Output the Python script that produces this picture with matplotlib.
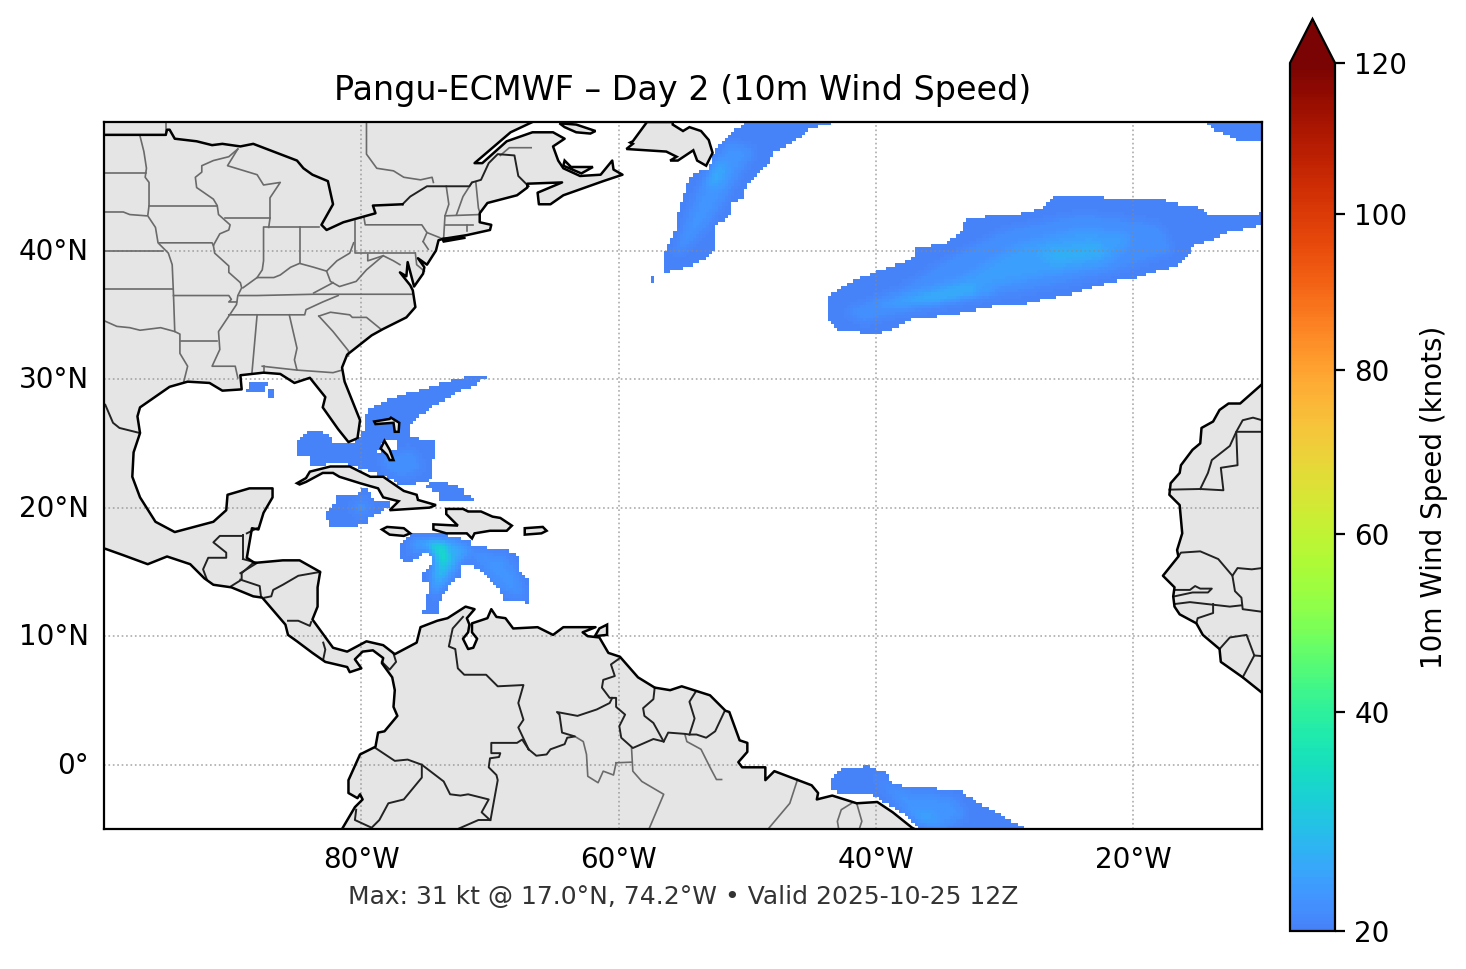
import numpy as np
import matplotlib
matplotlib.use("Agg")
import matplotlib.pyplot as plt
from matplotlib.path import Path
from matplotlib.colors import FuncNorm, LinearSegmentedColormap
from matplotlib.patches import Polygon
from matplotlib.transforms import ScaledTranslation

TITLE = "Pangu-ECMWF – Day 2 (10m Wind Speed)"
FOOTER = "Max: 31 kt @ 17.0°N, 74.2°W • Valid 2025-10-25 12Z"
CBAR_LABEL = "10m Wind Speed (knots)"
LON_TICKS = [-80, -60, -40, -20]
LON_LABELS = ["80°W", "60°W", "40°W", "20°W"]
LAT_TICKS = [0, 10, 20, 30, 40]
LAT_LABELS = ["0°", "10°N", "20°N", "30°N", "40°N"]
CBAR_TICKS = [20, 40, 60, 80, 100, 120]
SPEED_KNOTS = [20, 31, 40, 60, 80, 100, 120]
SPEED_FRAC = [0, 0.165, 0.252, 0.457, 0.646, 0.826, 1]

COAST_EAST = [(-66.7,50),(-68.4,49.2),(-71.2,46.8),(-70.6,46.8),(-68.7,48.5),(-66.7,49.2),(-65.1,49.2),(-64.2,48.7),(-65.1,48.1),(-64.7,47.0),(-64.3,46.4),(-63.0,45.8),(-61.4,45.9),(-60.5,47.0),(-60.4,46.3),(-59.7,45.9),(-61.2,45.4),(-64.3,44.3),(-65.3,43.6),(-66.2,43.6),(-66.3,44.5),(-64.4,45.3),(-67.1,45.2),(-67.1,44.9),(-67.9,44.3),(-70.2,43.7),(-70.8,42.9),(-70.8,42.2),(-69.9,42.0),(-70,41.6),(-71.8,41.2),(-73.7,40.9),(-74.0,40.8),(-74.2,40),(-74.9,38.9),(-75.6,39.4),(-75.1,38.7),(-75.2,38.2),(-75.9,37.2),(-76.4,39.1),(-76.5,38.0),(-77.0,38.3),(-76.2,37.3),(-76,36.9),(-75.8,35.6),(-76.5,34.8),(-78.3,33.9),(-79.2,33.4),(-81.1,31.9),(-81.5,30.9),(-81.3,29.8),(-80.1,26.8),(-80.3,25.4),(-81.0,25.1),(-81.8,26.1),(-83.0,27.8),(-82.8,28.6),(-84,30.1),(-85.2,29.7),(-86.3,30.4),(-87.6,30.5),(-89.4,30.3),(-89.3,29.2),(-90.8,29.1),(-91.8,29.7),(-93.5,29.8),(-94.9,29.4),(-97.2,27.8),(-97.4,27.1),(-97.2,25.8),(-97.7,24.3),(-97.8,22.4),(-97.2,20.8),(-96,18.9),(-94.5,18.1),(-91.5,18.9),(-90.5,19.8),(-90.4,21),(-88.7,21.5),(-86.9,21.5),(-86.9,20.8),(-87.6,19.6),(-88,18.3),(-88.5,18.4),(-88.9,16.1),(-88.3,15.7),(-86.1,15.9),(-84.8,15.9),(-83.2,15),(-83.4,13.8),(-83.4,12.3),(-83.8,11.3),(-82.2,9.1),(-81.1,8.8),(-79.6,9.6),(-78.3,9.3),(-77.4,8.6),(-75.7,9.5),(-75.4,10.7),(-74.1,11.2),(-73.3,11.4),(-71.9,12.3),(-71.2,12.1),(-71.8,11.4),(-71.6,10.9),(-71.7,10.3),(-72.1,9.8),(-71.7,9),(-71.3,9.1),(-71,9.8),(-71.4,10.3),(-71.4,11),(-70.2,11.4),(-69.9,12.1),(-69.5,11.5),(-68.8,11.4),(-68.2,10.6),(-66.3,10.7),(-65.1,10.1),(-64.3,10.7),(-61.8,10.7),(-62.8,10.3),(-62.4,10),(-61.5,9.9),(-60.8,8.7),(-59.9,8.4),(-58.5,6.8),(-57.2,6),(-56,5.8),(-55.1,6.1),(-52.9,5.4),(-51.7,4.2),(-51.4,4.1),(-50.6,1.9),(-50,1.7),(-50,1),(-50.7,0.2),(-50.4,-0.2),(-48.6,-0.2),(-48.6,-1.2),(-47.9,-0.5),(-45,-1.6),(-44.5,-2.2),(-44.6,-2.7),(-43.4,-2.4),(-41.5,-3),(-39.9,-2.9),(-38.7,-3.7),(-37.2,-4.9),(-37,-5)]
COAST_WEST = [(-81.5,-5),(-80.5,-3.3),(-79.9,-2.7),(-80.1,-2.3),(-80.3,-2.6),(-81,-2.2),(-81,-1.2),(-80.1,0.8),(-78.9,1.4),(-78.7,2.5),(-78.2,2.6),(-77.2,3.8),(-77.5,4.5),(-77.4,5.8),(-77.6,6.8),(-78.4,7.9),(-78.3,8.3),(-79.1,8.9),(-79.9,8.8),(-80.5,8.2),(-80,7.5),(-80.9,7.2),(-81.1,7.6),(-82.8,8),(-83.8,8.7),(-85,9.6),(-85.7,10.1),(-85.9,10.9),(-87.7,13),(-88.4,13.1),(-90.1,13.8),(-91.5,14),(-92.2,14.5),(-93.3,15.6),(-95.1,16.2),(-96.6,15.6),(-98.5,16.3),(-99.9,16.8),(-100,16.8)]
COAST_AFRICA = [(-10,29.6),(-11.7,28.1),(-12.6,28.1),(-13.3,27.6),(-13.8,26.7),(-14.7,26.2),(-14.8,25),(-15.4,24.5),(-16.3,23.3),(-16.4,22.7),(-17.1,21.9),(-17.2,21),(-16.4,20.2),(-16.2,18),(-16.6,16.7),(-16.5,16.2),(-17.7,14.7),(-16.8,13.8),(-16.9,13.1),(-16.8,12.3),(-16.4,11.7),(-15.1,11),(-14.6,10.1),(-13.3,9),(-13.2,8),(-11.5,6.8),(-10,5.6)]
LAKES_BORDER = [(-100,49),(-95.2,49),(-95.1,49.4),(-94.9,49.4),(-94.5,48.7),(-92.8,48.5),(-91.6,48.2),(-90.8,48.3),(-89.4,48.1),(-88.4,48.3),(-85,47),(-84.5,46.4),(-83.8,45.9),(-82.6,45.4),(-82.2,43.6),(-83.1,42),(-82.7,41.6),(-81.4,42.2),(-78.9,42.9),(-79.1,43.5),(-76.8,43.6)]

ISLANDS = [
 [(-73.7,40.9),(-71.9,41.0),(-73.6,40.7)],
 [(-57.8,50),(-58.9,48.5),(-59.1,48.4),(-58.9,48.3),(-59.4,47.9),(-56.3,47.7),(-55.5,47.3),(-56,47),(-55.4,47),(-54.2,47.8),(-53.9,47),(-53.2,46.6),(-52.7,47.6),(-53,48.6),(-53.6,49.3),(-54.5,49.6),(-55,49.3),(-55.8,49.8),(-55.8,50)],
 [(-64.6,49.9),(-63.3,49.8),(-61.8,49.3),(-62.2,49.1),(-63.3,49.2),(-64.2,49.6)],
 [(-64.2,47),(-63.7,46.5),(-62,46.5),(-62.9,46),(-64.3,46.6)],
 [(-85,21.9),(-84.3,22.3),(-84,22.8),(-82.4,23.2),(-80.9,23.2),(-79.3,22.4),(-78.3,22.4),(-76.7,21.3),(-75.7,21),(-75.6,20.6),(-74.2,20.2),(-74.7,20),(-77.8,19.8),(-77.1,20.5),(-78.3,20.8),(-78.7,21.5),(-80.1,21.9),(-81.7,22.4),(-82.2,22.7),(-83,22.7),(-84.3,22),(-84.8,21.8)],
 [(-78.4,18.3),(-78.0,18.5),(-76.7,18.4),(-76.2,18),(-76.7,17.8),(-77.8,17.9)],
 [(-73.4,19.9),(-72.1,19.9),(-71.7,19.7),(-70.7,19.7),(-69.8,19.3),(-69.2,19.2),(-68.3,18.6),(-68.7,18.2),(-70,18.2),(-71.2,18),(-71.4,17.6),(-71.8,18),(-73.4,18),(-74.4,18.3),(-74.4,18.7),(-72.5,18.6),(-73.4,19.5)],
 [(-67.3,18.4),(-65.9,18.5),(-65.6,18.2),(-66,18),(-67.3,17.9)],
 [(-78.5,24.6),(-78.2,25.2),(-77.8,24.5),(-77.5,23.7),(-77.8,23.7),(-78,24.1)],
 [(-79,26.7),(-77.8,26.9),(-77.7,27),(-77.05,26.6),(-77.1,25.9),(-77.4,25.9),(-77.5,26.6),(-78.9,26.5)],
 [(-60.9,10.9),(-60.9,10.1),(-61.85,10),(-61.5,10.6)],
]

STATE_LINES = [
 [(-99.9,46),(-96.7,46)],
 [(-97.2,48.9),(-96.9,47.7),(-96.7,46.4),(-96.8,45.7),(-96.5,45.3),(-96.5,43.5),(-96.6,42.7),(-96,41.8),(-95.8,40.6),(-95,39.8),(-94.7,38.9),(-94.6,36.6),(-94.5,33.7),(-94.1,33.5),(-94.1,32),(-93.5,31),(-93.8,29.8)],
 [(-99.9,43),(-98.5,43),(-98,42.8),(-96.7,42.7)],
 [(-99.9,40),(-95.4,40)],
 [(-99.9,37),(-94.6,37)],
 [(-99.9,34.5),(-99,34.1),(-98,34),(-97.2,33.8),(-95.6,34),(-94.5,33.7)],
 [(-96.5,43.5),(-91.2,43.5)],
 [(-95.7,40.6),(-91.6,40.6),(-91.5,40.4)],
 [(-89.6,47.9),(-90.3,47.3),(-91.5,47),(-92.4,46.6),(-92.4,46.1),(-92.9,45.7),(-92.8,44.9),(-91.5,44),(-91.2,43.5),(-91.1,42.8),(-90.2,42),(-90.3,41.6),(-91,41.3),(-91.5,40.4),(-91.4,39.8),(-90.3,38.8),(-90.3,38.3),(-89.4,37.5),(-89.3,37.1),(-89.6,36.5),(-89.7,35.8),(-90.3,34.9),(-91.1,33.7),(-91,32.3),(-91.6,31),(-89.8,31),(-89.6,30.1)],
 [(-94,33),(-91.2,33)],
 [(-89.6,47.9),(-90.4,46.6),(-88.1,45.9),(-87.6,45.1),(-86.3,45.3),(-87.1,44.1),(-87.1,42.5),(-87.2,41.8)],
 [(-90.6,42.5),(-87.1,42.5)],
 [(-87.6,41.8),(-87.6,39.2),(-87.7,38.5),(-88.1,37.9)],
 [(-87.6,41.8),(-84.8,41.8),(-83.3,41.8)],
 [(-84.8,41.8),(-84.8,39)],
 [(-89.2,37.1),(-88.1,37.9),(-86.8,37.9),(-86.3,38.1),(-85.5,38.7),(-84.8,39),(-83.7,38.7),(-82.7,38.4),(-81.9,39.2),(-80.9,39.8),(-80.6,40.6)],
 [(-80.5,42.3),(-80.5,39.8),(-75.8,39.8)],
 [(-79.8,42.6),(-79.7,42),(-75.3,42),(-74.9,41.4),(-73.9,41)],
 [(-82.7,38.4),(-82.4,37.6),(-81.7,37.2),(-80.4,37.6),(-79.6,38.5),(-78.3,39.6),(-77.5,39.2),(-77,38.9)],
 [(-79.5,39.7),(-79.5,39.2),(-78.3,39.6)],
 [(-82.2,37.5),(-83.7,36.7)],
 [(-94.6,36.5),(-90.3,36.5),(-90.1,36.2),(-90.3,36),(-89.7,36)],
 [(-89.5,36.5),(-88.1,36.5),(-83.7,36.6),(-76.1,36.6)],
 [(-90.3,35),(-84.4,35),(-84.3,35.4),(-83,36),(-81.8,36.5)],
 [(-83.3,34.9),(-82.4,35.2),(-80.9,35),(-80.7,34.8),(-79.6,34.8),(-78.5,33.9)],
 [(-83.3,34.9),(-82.2,33.7),(-81,32.2),(-81,31.8)],
 [(-88.1,35),(-88.5,30.5)],
 [(-85.6,35),(-85,32.4),(-85.2,31.5),(-85,30.7),(-82.2,30.5),(-81.5,30.7)],
 [(-87.7,31),(-85,30.7)],
 [(-87.6,31),(-87.6,30.5)],
 [(-75.2,40.7),(-74.9,41.4)],
 [(-75.2,40.7),(-74.8,40.1)],
 [(-75.8,39.8),(-75.7,38.9),(-75.1,38.4)],
 [(-73.4,45),(-73.2,43.6),(-73.5,42.7),(-73.6,41)],
 [(-71.4,45.3),(-72.1,44.2),(-72.6,42.8)],
 [(-71.1,45.3),(-70.9,43.3),(-70.8,43)],
 [(-73.5,42.7),(-70.8,42.8)],
 [(-73.5,42),(-71.3,42)],
 [(-71.8,42),(-71.8,41.5)],
 [(-95.2,50),(-95.2,49)],
 [(-79.6,50),(-79.6,47.5),(-78.8,46.4),(-77.5,46.2),(-76.7,45.7),(-75.4,45.5),(-74.5,45.7),(-74.4,45.3)],
 [(-69.2,47.4),(-68.5,48),(-66.8,48)],
 [(-60.2,.15),(-59,.2)],
 [(-60.2,.15),(-60.4,-.8),(-61.2,-.5),(-61.6,-1.4),(-62.4,-.9),(-62.5,.8),(-62.75,1.8),(-63.4,2.2)],
 [(-54.85,2.35),(-54.7,1.8),(-53.6,1.2),(-52.9,-.2),(-52.4,-1.15),(-52,-1.15)],
 [(-59,1.3),(-58.9,-.5),(-58.2,-1.3),(-56.5,-2.3),(-57.6,-4.9)],
 [(-46.1,-1.15),(-46.7,-3),(-48.3,-4.9)],
 [(-41.9,-3),(-42.7,-3.5),(-43,-4.4),(-42.9,-5)],
 [(-41.5,-3),(-41.1,-4.4),(-41.3,-5)],
]

COUNTRY_LINES = [
 [(-76.8,43.6),(-76.2,44.2),(-74.9,45),(-71.6,45),(-71.4,45.3),(-70.7,45.5),(-70.1,46.8),(-69.4,47.5),(-68.1,47.4),(-67.8,45.8),(-67,45)],
 [(-99.9,28),(-99.3,26.6),(-98.8,26.2),(-97.2,25.8)],
 [(-83.2,15),(-84.9,14.7),(-86.1,14),(-86.85,13.6),(-87,13.1),(-87.5,13)],
 [(-88.4,15.7),(-89.3,14.9),(-89.3,14.4),(-90.1,13.9)],
 [(-89.4,14.4),(-87.9,13.9),(-87.8,13.1)],
 [(-89.2,17.9),(-89.2,16)],
 [(-89.2,17.8),(-91,17.8),(-91.5,17.3),(-90.5,16.5),(-90.5,16.1),(-91.9,16.1),(-92.3,15.2),(-92,14.4)],
 [(-88.9,18),(-88.1,18.4)],
 [(-89.2,16),(-88.1,15.7),(-89.4,14.9)],
 [(-85.7,11.2),(-84.9,11.2),(-84,10.8),(-83.9,11.1)],
 [(-82.96,9.5),(-82.8,8.96),(-82.96,8.2)],
 [(-78.4,8),(-77.8,7.4),(-77.3,8),(-77.5,8.65)],
 [(-72.1,11.5),(-72.9,10.6),(-73.2,9.2),(-72.7,9),(-72.5,7.5),(-72,7),(-70.3,7),(-69.4,6.1),(-67.4,6.2),(-67.8,4.8),(-67.4,3.5),(-67.8,2.9),(-67,1.2)],
 [(-67,1.2),(-67.5,1.96),(-67.9,1.7),(-69.9,1.7),(-69.9,.9),(-69.2,.9),(-69.3,.6),(-70,.5),(-70.1,-.2),(-69.5,-.8),(-69.4,-1.2),(-69.96,-4.3)],
 [(-70,-4.3),(-70.9,-4.3),(-72.5,-5)],
 [(-70,-4.3),(-70.65,-3.7),(-70.1,-2.7),(-71.7,-2.3),(-72.3,-2.4),(-73.1,-2.3),(-73.6,-1.3),(-75.3,0),(-76.4,.4),(-77.4,.3),(-78.9,1.3)],
 [(-75.3,0),(-75.3,-1),(-76.7,-2.7),(-77.9,-3),(-78.6,-4.3),(-79.2,-4.9),(-80.5,-4.3),(-80.4,-3.5)],
 [(-67,1.2),(-66.4,.7),(-65.6,.8),(-65.3,1.2),(-64.2,1.6),(-64,2.1),(-63.4,2.2),(-64.4,2.5),(-64.6,3.9),(-64.8,4.1),(-63.2,3.8),(-61.7,4.3),(-60.7,4.8),(-60.5,5.2)],
 [(-59.9,8.3),(-60.6,7.8),(-60.3,6.9),(-61.2,6.6),(-61.3,6),(-60.7,5.2),(-60.2,5.2),(-60.2,4.5),(-59.5,3.9),(-59.95,3),(-59.8,2.1),(-58.9,1.3),(-57.3,2),(-56.5,1.8),(-56.15,2.5),(-54.85,2.4),(-54.5,2.35),(-53.95,2.35),(-53.2,2.1),(-52.5,2.6),(-51.75,4.2)],
 [(-57.2,6),(-57.3,5.1),(-58.1,4.4),(-58,3.8),(-57.3,3.25),(-56.5,1.8)],
 [(-54,5.7),(-54.5,4.9),(-54.1,3.6),(-54.5,2.35)],
 [(-72.1,19.9),(-71.7,19.7),(-72.1,18.8),(-71.8,18)],
 [(-17.2,21.4),(-14.8,21.45),(-13,21.35),(-13.2,23.1),(-11.9,23.3),(-12,25.9),(-10,25.9)],
 [(-14.8,21.45),(-14.2,22.7),(-13.9,23.7),(-12.5,24.8),(-12,25.9),(-11.5,26.8),(-10.7,27),(-10,26.8)],
 [(-16.5,16.2),(-16.3,16.5),(-14.8,16.6),(-13.4,16),(-12.3,14.7),(-11.9,15.3),(-10.8,15.2),(-10,15.3)],
 [(-12.3,14.7),(-12.1,13.5),(-11.6,13),(-11.5,12.1),(-10,11.9)],
 [(-16.8,13.6),(-15.6,13.6),(-15.2,13.9),(-14.8,13.7),(-13.9,13.7),(-14.2,13.4),(-15.4,13.4),(-16.8,13.1)],
 [(-16.8,12.5),(-15.6,12.65),(-12.5,12.3),(-11.6,12.4)],
 [(-13.8,12.5),(-13.8,11.8),(-15,11.4),(-15.1,11)],
 [(-13.3,9),(-12.5,9.9),(-11.2,10.1),(-10.6,8.5),(-10,8.45)],
 [(-10.6,8.5),(-11.5,6.8)],
]

# Digitised wind-speed areas: (knots, outline in lon/lat), weakest first.
WIND_EDGE = 20.4
LABRADOR_STREAK = [(-50.1,49.9),(-43.5,49.9),(-45.2,49.4),(-46.3,48.5),(-47.9,47.7),(-48.2,47.1),(-48.7,46.3),(-50.1,45),(-50.2,44.1),(-51.2,43.6),(-51.2,42.95),(-52.4,41.9),(-52.5,40),(-53.4,39.3),(-54.45,38.7),(-55.7,38.5),(-56.5,38.1),(-56.6,39.4),(-56,40.75),(-55.6,41.65),(-55.4,42.8),(-54.6,45.3),(-54.3,45.9),(-53,46.4),(-52.4,48.1),(-51.6,48.8),(-50.9,49.4)]
SPECK_A = [(-57.4,38.1),(-57.15,38.1),(-57.15,37.4),(-57.4,37.4)]
MID_ATLANTIC = [(-43.8,36.35),(-42.7,37.1),(-41.8,37.6),(-40.1,38.3),(-38.4,38.9),(-37.1,39.45),(-37.1,40.1),(-34.6,40.6),(-33.4,41.4),(-33.1,42.4),(-30.9,42.7),(-28.4,42.9),(-27.1,43.3),(-26.35,44.1),(-25.1,44.3),(-22.45,44.3),(-22.1,44.1),(-17.1,43.85),(-16,43.5),(-15,43.4),(-14,42.8),(-12.1,42.8),(-11.2,42.7),(-10,42.9),(-10,42),(-12.6,41.4),(-14,40.75),(-15.4,40.35),(-15.6,39.7),(-16.5,38.9),(-18.4,38.3),(-20.1,37.8),(-21.5,37.6),(-23.4,37.1),(-24.95,36.6),(-28.7,35.8),(-31.2,35.6),(-34,35.05),(-35.9,34.8),(-37.1,34.7),(-38.4,34),(-39.9,33.5),(-40.55,33.5),(-41.8,33.75),(-43.2,33.9),(-43.8,34.9)]
TOP_RIGHT = [(-14.5,50),(-10,50),(-10,48.5),(-11.7,48.5),(-12.9,49.1),(-13.7,49.4)]
BAHAMAS = [(-69.9,30.35),(-71.3,30.3),(-74.15,29.57),(-75.6,29.05),(-76.75,28.8),(-77.9,28.4),(-78.7,28),(-79.6,27.6),(-79.7,26.3),(-80.2,25.3),(-80.75,24.9),(-82.05,24.9),(-82.45,25.55),(-83.1,25.9),(-83.9,26.1),(-84.4,25.7),(-84.9,25.3),(-84.9,24.1),(-84.1,24),(-84.1,23.2),(-81.9,23.5),(-80.9,23.35),(-79.3,22.8),(-78,22.4),(-76.9,21.7),(-76.2,21.7),(-75.6,22),(-74.8,22),(-74.4,22.7),(-74.4,23.7),(-74.15,23.7),(-74.15,25.2),(-75.7,25.4),(-76.35,25.55),(-76.35,26.2),(-75.6,26.97),(-74.5,27.9),(-73.4,28.4),(-72.1,29.2),(-71.3,29.4),(-70.4,30.1)]
TURKS_STRIP = [(-75,21.66),(-74.7,22),(-73.4,21.9),(-72.9,21.66),(-72.2,21.6),(-71.8,21),(-70.9,20.4),(-73.9,20.6),(-74,21.1)]
CAYMAN = [(-81.9,21),(-80.2,21.1),(-80.1,21.4),(-79.5,21.4),(-79.3,21),(-78.7,20.4),(-77.65,20.5),(-77.8,20.1),(-78.2,20),(-78.55,19.6),(-79.3,19.3),(-79.5,18.9),(-80.1,18.7),(-80.9,18.4),(-82.3,18.4),(-82.65,19.1),(-82.65,19.85),(-82.2,20.1)]
CARIBBEAN = [(-75.9,18.1),(-74.15,18.1),(-73.1,17.8),(-71.7,17.5),(-71.3,17),(-70.15,16.9),(-70,16.6),(-69,16.9),(-67.9,16.35),(-67.7,15.2),(-66.95,14.15),(-66.9,12.5),(-67.55,12.7),(-69,12.7),(-69.2,13.6),(-70.5,14.9),(-71.4,15.45),(-72.2,15.45),(-72.2,14.65),(-72.7,14.5),(-73.5,13.4),(-74,12.7),(-73.9,11.8),(-75.2,11.7),(-74.9,12.85),(-74.8,14.15),(-75.3,14.4),(-75.05,15.3),(-74.5,15.45),(-74.4,16.2),(-75.05,16.6),(-75.6,15.95),(-76.75,15.7),(-76.95,16.35),(-77.1,16.6),(-76.75,17.5)]
GULF_A = [(-88.95,29.05),(-88.7,29.7),(-87.35,29.7),(-87.5,29.05)]
GULF_B = [(-87.25,29.15),(-86.75,29.15),(-86.75,28.55),(-87.25,28.55)]
SOUTH_ATLANTIC = [(-42.8,-.37),(-41.1,-.32),(-41,-.11),(-40.5,-.11),(-39.8,-.42),(-39.2,-.68),(-38.7,-1.4),(-37.5,-1.8),(-33.5,-1.93),(-32.3,-2.83),(-31.2,-3.35),(-29.9,-4.13),(-28.2,-5),(-36.6,-5),(-37.5,-4),(-38.9,-3.2),(-39.96,-2.57),(-40.5,-2.3),(-42.2,-2.2),(-43.6,-2.05),(-43.6,-1.3),(-43.2,-.71)]
WIND_OUTLINES = [LABRADOR_STREAK, SPECK_A, MID_ATLANTIC, TOP_RIGHT, BAHAMAS, TURKS_STRIP, CAYMAN, CARIBBEAN, GULF_A, GULF_B, SOUTH_ATLANTIC]
ANDROS_GAP = [(-78.3,25.3),(-77.3,25.15),(-77.3,24.5),(-77.9,24.6),(-78.7,24.3)]
WIND_CORES = [
 (22.5, [(-51.5,48.5),(-49.5,47.8),(-50.8,45.8),(-52.8,42.5),(-54,41),(-55.7,39.3),(-55,41.5),(-54,44),(-53,46)]),
 (25, [(-52.3,47),(-51.5,46.5),(-52,45),(-53.2,45),(-53,46)]),
 (22, [(-42.5,35.2),(-38,37),(-34,39.5),(-30,41.5),(-24,42.8),(-18,42),(-17,40),(-22,38.3),(-28,37),(-34,36),(-39,35),(-41,34.5)]),
 (24, [(-40,35.8),(-33,37.8),(-29,40.3),(-24,41.6),(-20,41),(-22,39),(-28,38),(-34,36.8),(-38,35.6)]),
 (26, [(-38.5,36),(-33,37.3),(-31,36.9),(-36,35.9)]),
 (26, [(-27.5,40),(-23,40.5),(-22,39.7),(-26,39)]),
 (22, [(-78.5,23.8),(-76,24.5),(-75.3,23),(-77,22.4),(-78,23)]),
 (22, [(-80.5,20.5),(-79.5,20.5),(-79.5,19.6),(-80.5,19.6)]),
 (22.5, [(-71.5,16.5),(-69,16.3),(-68,15),(-67.3,13),(-69,13.5),(-70.5,15.3)]),
 (24.5, [(-76,17.5),(-73,17.5),(-71.5,16.7),(-72.8,15.2),(-73.5,14),(-74.5,13),(-74.4,15),(-74,16.3),(-75,17),(-76,16.5)]),
 (28, [(-75.3,17.4),(-73.3,17.2),(-72.9,16),(-73.5,14.8),(-74.3,14.4),(-74.1,15.8),(-74.4,16.6)]),
 (33, [(-74.9,17.3),(-73.5,17),(-73.3,15.9),(-74.1,15.3),(-73.9,16.4)]),
 (22.5, [(-40,-1),(-38.5,-2),(-34,-2.5),(-33,-4),(-35,-5),(-37,-4.5)]),
 (25, [(-37.5,-3.5),(-35,-4),(-36,-4.6)]),
]

W, H, DPI = 1466, 969, 200
fig = plt.figure(figsize=(W / DPI, H / DPI), dpi=DPI, facecolor="white")
ax = fig.add_axes([104 / W, 1 - 829 / H, (1262 - 104) / W, (829 - 122) / H])
ax.set_xlim(-100, -10)
ax.set_ylim(-5, 50)

turbo = plt.get_cmap("turbo")
cmap = LinearSegmentedColormap.from_list("turbo_cut", turbo(np.linspace(0.16, 1, 256)), N=256)
cmap.set_over(turbo(1.0))
norm = FuncNorm((lambda v: np.interp(v, SPEED_KNOTS, SPEED_FRAC),
                 lambda f: np.interp(f, SPEED_FRAC, SPEED_KNOTS)), vmin=20, vmax=120)

# Raster of the digitised areas on a quarter-degree grid
lon_edges = np.arange(-100, -10 + 0.01, 0.25)
lat_edges = np.arange(-5, 50 + 0.01, 0.25)
lon_c = 0.5 * (lon_edges[:-1] + lon_edges[1:])
lat_c = 0.5 * (lat_edges[:-1] + lat_edges[1:])
xx, yy = np.meshgrid(lon_c, lat_c)
pts = np.column_stack([xx.ravel(), yy.ravel()])


def inside(poly):
    return Path(poly + [poly[0]]).contains_points(pts).reshape(xx.shape)


mask = np.zeros(xx.shape, bool)
for outline in WIND_OUTLINES:
    mask |= inside(outline)
mask &= ~inside(ANDROS_GAP)
field = np.full(xx.shape, WIND_EDGE)
for knots, poly in WIND_CORES:
    field[inside(poly)] = knots
# soften the steps between digitised areas
for _ in range(5):
    p = np.pad(np.where(mask, field, WIND_EDGE), 1, mode="edge")
    field = (p[:-2, 1:-1] + p[2:, 1:-1] + p[1:-1, :-2] + p[1:-1, 2:] + p[1:-1, 1:-1] * 2) / 6
wind = np.where(mask, field, np.nan)
mesh = ax.pcolormesh(lon_edges, lat_edges, wind, cmap=cmap, norm=norm, shading="flat", zorder=1)

LAND = "#e5e5e5"
ax.add_patch(Polygon(COAST_EAST + COAST_WEST + [(-100, 50)], closed=True, fc=LAND, ec="none", zorder=2))
ax.add_patch(Polygon(COAST_AFRICA + [(-10, 5.6)], closed=True, fc=LAND, ec="none", zorder=2))
for isl in ISLANDS:
    ax.add_patch(Polygon(isl, closed=True, fc=LAND, ec="black", lw=0.9, zorder=4))
for line in STATE_LINES:
    a = np.array(line)
    ax.plot(a[:, 0], a[:, 1], color="#6a6a6a", lw=0.6, zorder=3)
for line in COUNTRY_LINES:
    a = np.array(line)
    ax.plot(a[:, 0], a[:, 1], color="#222222", lw=0.7, zorder=3)
for line in (COAST_EAST, COAST_WEST, COAST_AFRICA, LAKES_BORDER):
    a = np.array(line)
    ax.plot(a[:, 0], a[:, 1], color="black", lw=0.9, zorder=4)

ax.set_xticks(LON_TICKS, LON_LABELS)
ax.set_yticks(LAT_TICKS, LAT_LABELS)
ax.tick_params(axis="both", length=0, labelsize=10)
ax.tick_params(axis="x", pad=6)
ax.tick_params(axis="y", pad=5.4)
shift = ScaledTranslation(0, 2 / DPI, fig.dpi_scale_trans)
for lab in ax.get_yticklabels():
    lab.set_transform(lab.get_transform() + shift)
ax.grid(True, color="#888888", lw=0.6, ls=":", alpha=0.7, zorder=5)
ax.set_axisbelow(False)
for s in ax.spines.values():
    s.set_zorder(6)
ax.set_title(TITLE, fontsize=12, pad=8)
ax.text(0.5, -0.096, FOOTER, transform=ax.transAxes, ha="center", va="center", fontsize=9, color="#333333")

cax = fig.add_axes([1290 / W, 1 - 931 / H, 45 / W, 912 / H])
cb = fig.colorbar(mesh, cax=cax, extend="max", extendfrac=44 / 868)
cb.set_ticks(CBAR_TICKS)
cb.set_ticklabels([str(t) for t in CBAR_TICKS])
cb.minorticks_off()
cb.ax.tick_params(labelsize=10)
cb.set_label(CBAR_LABEL, fontsize=10, labelpad=4.5)

fig.savefig("out.png", dpi=DPI, facecolor="white")
